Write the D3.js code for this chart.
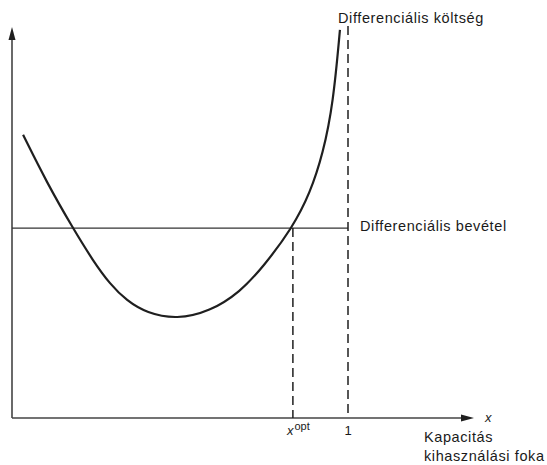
<!DOCTYPE html>
<html>
<head>
<meta charset="utf-8">
<script src="https://cdn.jsdelivr.net/npm/d3@7/dist/d3.min.js"></script>
<style>
  body { margin: 0; background: #fff; }
  svg text { font-family: "Liberation Sans", Arial, sans-serif; fill: #1a1a1a; }
</style>
</head>
<body>
<div id="chart"></div>
<script>
// capacity utilisation (0..1) and differential cost (arbitrary units)
var costX = [0.033, 0.104, 0.181, 0.242, 0.292, 0.341, 0.401, 0.490, 0.589, 0.679, 0.748, 0.834, 0.887, 0.926, 0.956, 0.976];
var costY = [72.6, 60.3, 48.7, 40.2, 34.3, 30.1, 26.9, 25.3, 27.3, 32.3, 38.8, 48.7, 57.6, 67.9, 80.7, 99.5];
var revenue = 48.7;
var xOpt = 0.836;
var xFull = 1;

var width = 547, height = 465;

var x = d3.scaleLinear().domain([0, 1]).range([12, 348]);
var y = d3.scaleLinear().domain([0, 100]).range([418, 28]);

var svg = d3.select('#chart').append('svg')
    .attr('width', width)
    .attr('height', height);

var ink = '#1f1f1f';

// axes
svg.append('line')
    .attr('x1', x(0)).attr('y1', y(0))
    .attr('x2', x(0)).attr('y2', 36)
    .attr('stroke', '#444').attr('stroke-width', 1.6);
svg.append('path')
    .attr('d', 'M' + x(0) + ',27 L' + (x(0) - 3.5) + ',40 L' + (x(0) + 3.5) + ',40 Z')
    .attr('fill', ink);

svg.append('line')
    .attr('x1', x(0)).attr('y1', y(0))
    .attr('x2', 464).attr('y2', y(0))
    .attr('stroke', '#444').attr('stroke-width', 1.6);
svg.append('path')
    .attr('d', 'M474,' + y(0) + ' L461,' + (y(0) - 3.5) + ' L461,' + (y(0) + 3.5) + ' Z')
    .attr('fill', ink);

// revenue line
svg.append('line')
    .attr('x1', x(0)).attr('y1', y(revenue))
    .attr('x2', x(xFull)).attr('y2', y(revenue))
    .attr('stroke', '#333').attr('stroke-width', 1.3);

// dashed verticals
svg.append('line')
    .attr('x1', x(xFull)).attr('y1', 26)
    .attr('x2', x(xFull)).attr('y2', y(0))
    .attr('stroke', ink).attr('stroke-width', 1.5)
    .attr('stroke-dasharray', '9,5');
svg.append('line')
    .attr('x1', x(xOpt)).attr('y1', y(revenue))
    .attr('x2', x(xOpt)).attr('y2', y(0))
    .attr('stroke', ink).attr('stroke-width', 1.5)
    .attr('stroke-dasharray', '9,5');

// cost curve
var line = d3.line()
    .x(function (d) { return x(d[0]); })
    .y(function (d) { return y(d[1]); })
    .curve(d3.curveBasis);

svg.append('path')
    .datum(d3.zip(costX, costY))
    .attr('d', line)
    .attr('fill', 'none')
    .attr('stroke', ink)
    .attr('stroke-width', 2.2);

// labels
var labelStyle = function (t) {
    t.style('font-size', '14.5px').style('letter-spacing', '0.6px');
};
svg.append('text').attr('x', 338).attr('y', 23).text('Differenciális költség').call(labelStyle);
svg.append('text').attr('x', 360).attr('y', 231).text('Differenciális bevétel').call(labelStyle);
svg.append('text').attr('x', 424).attr('y', 442).text('Kapacitás').call(labelStyle);
svg.append('text').attr('x', 424).attr('y', 461).text('kihasználási foka').call(labelStyle);

svg.append('text').attr('x', 485).attr('y', 422)
    .style('font-size', '13px').style('font-style', 'italic').text('x');

var opt = svg.append('text').attr('x', x(xOpt) - 6).attr('y', 435)
    .style('font-size', '13px');
opt.append('tspan').style('font-style', 'italic').text('x');
opt.append('tspan').attr('dx', 1).attr('dy', -5).style('font-size', '11px').text('opt');

svg.append('text').attr('x', x(xFull)).attr('y', 435)
    .attr('text-anchor', 'middle')
    .style('font-size', '13px').text('1');
</script>
</body>
</html>
